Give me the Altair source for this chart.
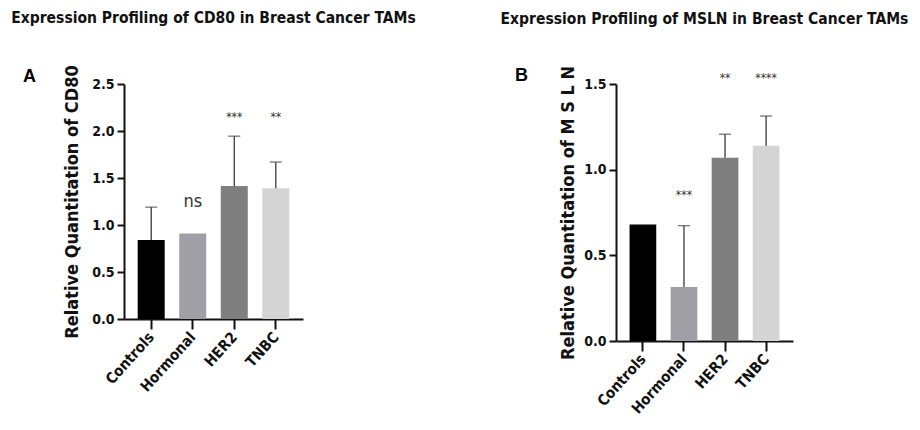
import altair as alt
import pandas as pd

groups = ["Controls", "Hormonal", "HER2", "TNBC"]
bar_colors = ["#000000", "#a09fa6", "#7f7f7f", "#d4d4d4"]

cd80_mean = [0.84, 0.91, 1.415, 1.39]
cd80_upper = [1.19, None, 1.945, 1.67]
cd80_sig = ["", "ns", "***", "**"]
cd80_sig_y = [None, 1.24, 2.18, 2.18]

msln_mean = [0.68, 0.315, 1.07, 1.14]
msln_upper = [None, 0.673, 1.207, 1.313]
msln_sig = ["", "***", "**", "****"]
msln_sig_y = [None, 0.87, 1.555, 1.555]

FONT = "DejaVu Sans Condensed, DejaVu Sans, sans-serif"


def panel(mean, upper, sig, sig_y, title, ytitle, letter, domain, ticks, w, h,
          toff, ytfs, ytpad, lab_y):
    df = pd.DataFrame({"group": groups, "mean": mean, "upper": upper,
                       "sig": sig, "sig_y": sig_y})
    xenc = alt.X("group:N", sort=groups,
                 scale=alt.Scale(paddingInner=0.35, paddingOuter=0.33),
                 axis=alt.Axis(labelAngle=-48, labelAlign="right", labelBaseline="middle",
                               labelFontSize=15, labelFont=FONT, labelFontWeight="bold",
                               labelColor="#111", tickSize=10, tickWidth=2, tickColor="#111",
                               domainWidth=2, domainColor="#111", labelPadding=5),
                 title=None)
    yenc = alt.Y("mean:Q", scale=alt.Scale(domain=domain, nice=False),
                 axis=alt.Axis(values=ticks, format=".1f", labelFontSize=14, labelFont=FONT,
                               labelFontWeight="bold", labelColor="#111", tickSize=7,
                               tickWidth=2, tickColor="#111", domainWidth=2,
                               domainColor="#111", grid=False, titleFont=FONT,
                               titleFontSize=ytfs, titleFontWeight="bold",
                               titleColor="#111", titlePadding=ytpad, labelPadding=3),
                 title=ytitle)
    base = alt.Chart(df)
    bars = base.mark_bar().encode(
        x=xenc, y=yenc,
        color=alt.Color("group:N", scale=alt.Scale(domain=groups, range=bar_colors),
                        legend=None))
    err = base.transform_filter("isValid(datum.upper)").mark_rule(
        color="#3a3a3a", strokeWidth=1.3).encode(
        x=alt.X("group:N", sort=groups), y="mean:Q", y2="upper:Q")
    cap = base.transform_filter("isValid(datum.upper)").mark_tick(
        color="#3a3a3a", thickness=1.3, size=12).encode(
        x=alt.X("group:N", sort=groups), y="upper:Q")
    stars = base.transform_filter("datum.sig != '' && datum.sig != 'ns'").mark_text(
        font=FONT, fontSize=12, color="#333", baseline="middle", dy=3).encode(
        x=alt.X("group:N", sort=groups), y="sig_y:Q", text="sig:N")
    ns = base.transform_filter("datum.sig == 'ns'").mark_text(
        font=FONT, fontSize=18, color="#333", baseline="middle").encode(
        x=alt.X("group:N", sort=groups), y="sig_y:Q", text="sig:N")
    lab = alt.Chart(pd.DataFrame({"t": [letter]})).mark_text(
        font="Liberation Sans, Arial, sans-serif", fontSize=18, fontWeight="bold",
        color="#000", align="left", baseline="middle").encode(
        x=alt.value(-101), y=alt.value(lab_y), text="t:N")
    return alt.layer(bars, err, cap, stars, ns, lab).properties(
        width=w, height=h,
        title=alt.TitleParams(title, font=FONT, fontSize=15.5, fontWeight="bold",
                              color="#111", offset=toff))


left = panel(cd80_mean, cd80_upper, cd80_sig, cd80_sig_y,
             "Expression Profiling of CD80 in Breast Cancer TAMs",
             "Relative Quantitation of CD80", "A", [0, 2.5],
             [0, 0.5, 1.0, 1.5, 2.0, 2.5], 179, 235, 38, 18, 10, -7)
right = panel(msln_mean, msln_upper, msln_sig, msln_sig_y,
              "Expression Profiling of MSLN in Breast Cancer TAMs",
              "Relative Quantitation of M S L N", "B", [0, 1.5],
              [0, 0.5, 1.0, 1.5], 177, 257, 37.5, 18, 6, -8)

chart = alt.hconcat(left, right, spacing=84).properties(
    padding={"left": 3, "top": 3, "right": 0, "bottom": 0},
    background="white").configure_view(stroke=None)

chart.save("out.html", embed_options={"renderer": "svg", "actions": False})
